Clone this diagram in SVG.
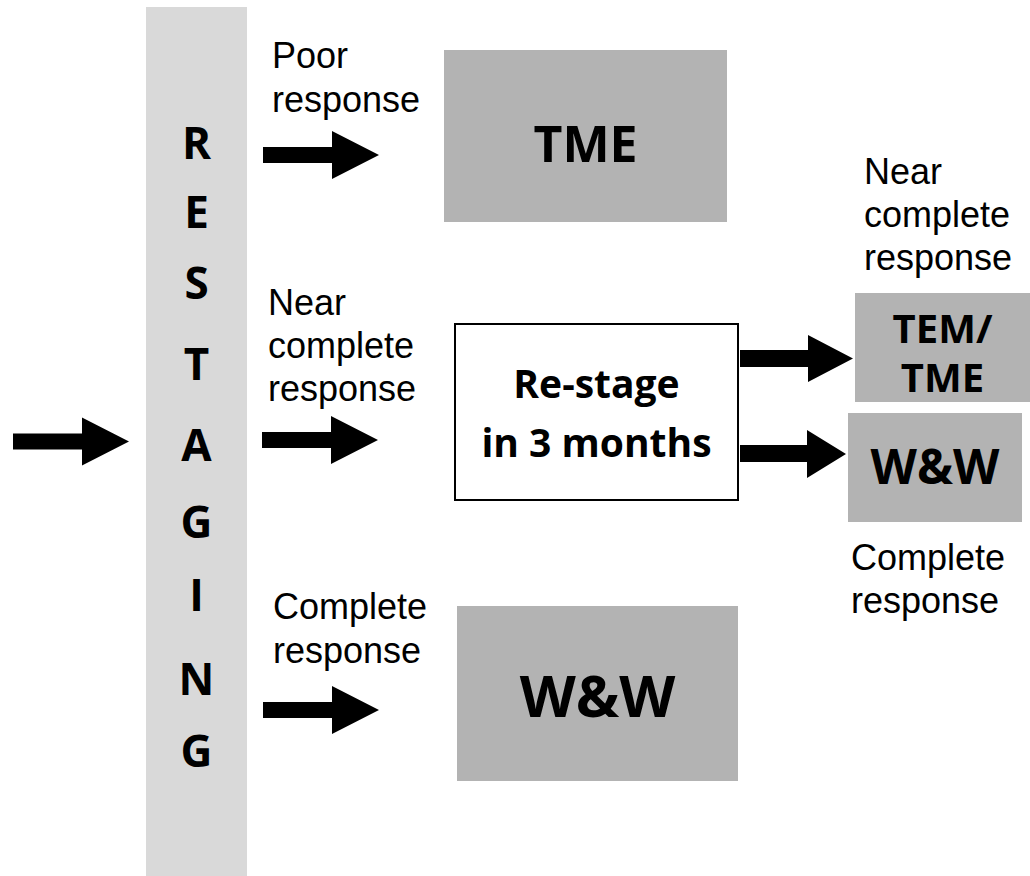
<svg xmlns="http://www.w3.org/2000/svg" width="1030" height="876" viewBox="0 0 1030 876">
<style>
.lbl{font-family:"Liberation Sans",Arial,sans-serif;font-size:36px;fill:#000}
.bold{font-family:"Open Sans","Liberation Sans",sans-serif;font-weight:bold;fill:#000;text-anchor:middle}
.gbox{fill:#b3b3b3}
.arrow{fill:#000}
</style>
<defs>
<path id="blk" d="M0,-8 H69 V-24 L116,0 L69,24 V8 H0 Z"/>
</defs>
<rect x="0" y="0" width="1030" height="876" fill="#fff"/>
<g id="restaging">
<rect x="146" y="7" width="101" height="869" fill="#d9d9d9"/>
<g class="bold" font-size="44">
<text x="196.5" y="159">R</text>
<text x="196.5" y="228">E</text>
<text x="196.5" y="299">S</text>
<text x="196.5" y="380">T</text>
<text x="196.5" y="461">A</text>
<text x="196.5" y="538">G</text>
<text x="196.5" y="611">I</text>
<text x="196.5" y="695">N</text>
<text x="196.5" y="767">G</text>
</g>
</g>
<g id="tme">
<rect class="gbox" x="444" y="50" width="283" height="172"/>
<text class="bold" x="585.5" y="162" font-size="50">TME</text>
</g>
<g id="restage">
<rect x="455" y="324" width="283" height="176" fill="#fff" stroke="#000" stroke-width="2"/>
<text class="bold" x="596.5" y="398" font-size="39">Re-stage</text>
<text class="bold" x="596.5" y="457" font-size="39">in 3 months</text>
</g>
<g id="tem-tme">
<rect class="gbox" x="855" y="293" width="175" height="109"/>
<text class="bold" x="942.5" y="343" font-size="40">TEM/</text>
<text class="bold" x="942.5" y="392" font-size="40">TME</text>
</g>
<g id="ww-small">
<rect class="gbox" x="848" y="413" width="174" height="109"/>
<text class="bold" x="935" y="484" font-size="48">W&amp;W</text>
</g>
<g id="ww-big">
<rect class="gbox" x="457" y="606" width="281" height="175"/>
<text class="bold" x="597.5" y="717" font-size="58">W&amp;W</text>
</g>
<g id="labels" class="lbl">
<text x="272" y="68">Poor</text>
<text x="272" y="112">response</text>
<text x="268" y="315">Near</text>
<text x="268" y="358">complete</text>
<text x="268" y="401">response</text>
<text x="273" y="619">Complete</text>
<text x="273" y="663">response</text>
<text x="864" y="184">Near</text>
<text x="864" y="227">complete</text>
<text x="864" y="270">response</text>
<text x="851" y="570">Complete</text>
<text x="851" y="613">response</text>
</g>
<g id="connectors" class="arrow">
<use href="#blk" transform="translate(13,441.5)"/>
<use href="#blk" transform="translate(263,155)"/>
<use href="#blk" transform="translate(262,440)"/>
<use href="#blk" transform="translate(263,710)"/>
<path d="M740,350 H808 V335 L853,358.5 L808,382 V367 H740 Z"/>
<path d="M740,445 H807 V430 L846,454 L807,478 V462 H740 Z"/>
</g>
</svg>
